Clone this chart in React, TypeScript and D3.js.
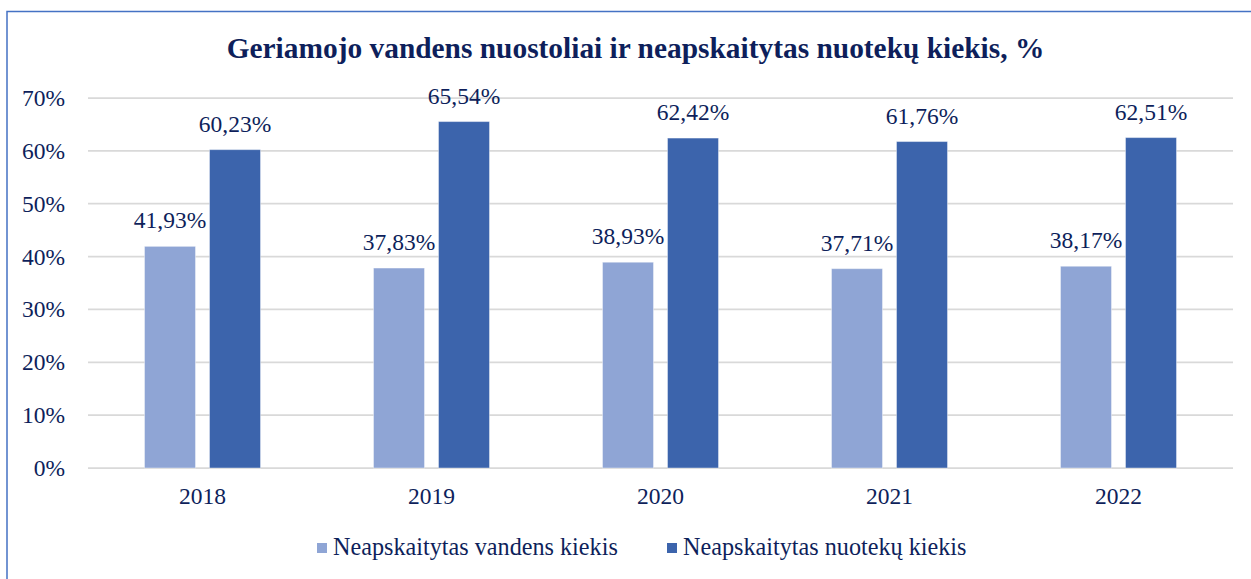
import React from "react";
import * as d3 from "d3";

const years = ["2018", "2019", "2020", "2021", "2022"];
const waterLoss = [41.93, 37.83, 38.93, 37.71, 38.17];
const sewageLoss = [60.23, 65.54, 62.42, 61.76, 62.51];
const yTicks = [0, 10, 20, 30, 40, 50, 60, 70];
const seriesNames = ["Neapskaitytas vandens kiekis", "Neapskaitytas nuotekų kiekis"];
const title = "Geriamojo vandens nuostoliai ir neapskaitytas nuotekų kiekis, %";

const W = 1251;
const H = 579;
const left = 88;
const right = 1233;
const top = 98;
const bottom = 468;
const colors = ["#8FA5D5", "#3C64AC"];
const textColor = "#0E1F5B";
const font = "'Liberation Serif', 'Times New Roman', Times, serif";
const fs = 23.5;

export default function App() {
  const x = d3.scaleBand().domain(years).range([left, right]).paddingInner(0).paddingOuter(0);
  const y = d3.scaleLinear().domain([0, 70]).range([bottom, top]);
  const barW = 51;
  const gap = 14;
  const fmt = (v: number) => v.toFixed(2).replace(".", ",") + "%";
  const series = [waterLoss, sewageLoss];
  const ts = { fontFamily: font, fill: textColor } as React.CSSProperties;

  return (
    <div style={{ position: "absolute", left: 0, top: 0, margin: 0 }}>
      <svg width={W} height={H} style={{ display: "block", background: "#fff" }}>
        <rect x={7} y={11.5} width={1260} height={600} fill="none" stroke="#4472C4" strokeWidth={1.5} />
        <text x={635.5} y={58} textAnchor="middle" fontSize={29.4} fontWeight="bold" style={ts}>
          {title}
        </text>
        {yTicks.map((t) => (
          <g key={t}>
            <line x1={left} x2={right} y1={y(t)} y2={y(t)} stroke="#D9D9D9" strokeWidth={1.75} />
            <text x={65} y={y(t) + 8} textAnchor="end" fontSize={fs} style={ts}>
              {t}%
            </text>
          </g>
        ))}
        {years.map((yr, i) => {
          const c = (x(yr) as number) + x.bandwidth() / 2;
          return (
            <g key={yr}>
              {series.map((s, j) => {
                const bx = j === 0 ? c - gap / 2 - barW : c + gap / 2;
                const v = s[i];
                return (
                  <g key={j}>
                    <rect x={bx} y={y(v)} width={barW} height={y(0) - y(v)} fill={colors[j]} stroke="#fff" strokeOpacity={0.4} strokeWidth={1} />
                    <text x={bx + barW / 2} y={y(v) - 18} textAnchor="middle" fontSize={fs} style={ts}>
                      {fmt(v)}
                    </text>
                  </g>
                );
              })}
              <text x={c} y={504} textAnchor="middle" fontSize={fs} style={ts}>
                {yr}
              </text>
            </g>
          );
        })}
        <g>
          <rect x={317} y={543} width={10} height={10} fill={colors[0]} />
          <text x={333} y={555} fontSize={24.2} style={ts}>{seriesNames[0]}</text>
          <rect x={667} y={543} width={10} height={10} fill={colors[1]} />
          <text x={683} y={555} fontSize={24.2} style={ts}>{seriesNames[1]}</text>
        </g>
      </svg>
    </div>
  );
}
